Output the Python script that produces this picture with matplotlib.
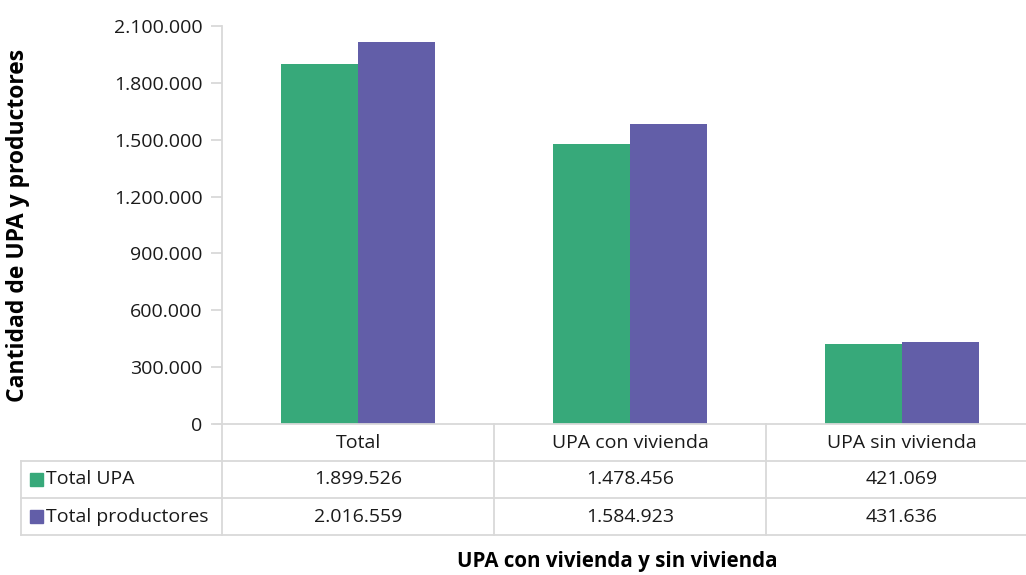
import matplotlib
matplotlib.use("Agg")
import matplotlib.pyplot as plt
from matplotlib.lines import Line2D
from matplotlib.patches import Rectangle
import numpy as np

categories = ["Total", "UPA con vivienda", "UPA sin vivienda"]
series_names = ["Total UPA", "Total productores"]
total_upa = [1899526, 1478456, 421069]
total_productores = [2016559, 1584923, 431636]
colors = ["#37a97a", "#625ea8"]
yticks = [0, 300000, 600000, 900000, 1200000, 1500000, 1800000, 2100000]

def fmt(v):
    return f"{v:,}".replace(",", ".")

W, H = 1026, 575
plt.rcParams['font.family'] = ['Open Sans', 'DejaVu Sans']
fig = plt.figure(figsize=(W / 100, H / 100), dpi=100)

def fx(px):
    return px / W

def fy(py):
    return 1 - py / H

FS = 14
ax_left, ax_right, ax_top, ax_bottom = 222, 1038, 26, 424
ax = fig.add_axes([fx(ax_left), fy(ax_bottom), fx(ax_right - ax_left), (ax_bottom - ax_top) / H])

n = len(categories)
x = np.arange(n)
bw = 0.283
ax.bar(x - bw / 2, total_upa, width=bw, color=colors[0], label=series_names[0])
ax.bar(x + bw / 2, total_productores, width=bw, color=colors[1], label=series_names[1])
ax.set_xlim(-0.5, n - 0.5)
ax.set_ylim(0, 2100000)
ax.set_yticks(yticks)
ax.set_yticklabels([fmt(v) for v in yticks], fontsize=FS, color="#1a1a1a")
ax.set_xticks([])
for s in ["top", "right", "bottom"]:
    ax.spines[s].set_visible(False)
ax.spines["left"].set_color("#d9d9d9")
ax.spines["left"].set_linewidth(1.3)
ax.tick_params(axis="y", length=8, color="#d9d9d9", width=1.3, pad=6)

fig.text(fx(18), fy(225), "Cantidad de UPA y productores", fontsize=16.5,
         fontweight="bold", color="#000000", rotation=90, ha="center", va="center")

# Data table
grid_col = "#d9d9d9"
lw = 1.3
row_y = [424, 461, 498, 535]
table_left = 21
col_edges_px = [ax_left + (ax_right - ax_left) * i / n for i in range(n + 1)]

def hline(y, x0, x1):
    fig.add_artist(Line2D([fx(x0), fx(x1)], [fy(y), fy(y)], color=grid_col, lw=lw))

def vline(xp, y0, y1):
    fig.add_artist(Line2D([fx(xp), fx(xp)], [fy(y0), fy(y1)], color=grid_col, lw=lw))

hline(row_y[0], ax_left - 8, W + 20)
for y in row_y[1:]:
    hline(y, table_left, W + 20)
vline(table_left, row_y[1], row_y[3])
vline(ax_left, row_y[0], row_y[3])
for xe in col_edges_px[1:-1]:
    vline(xe, row_y[0], row_y[3])

txt_kw = dict(fontsize=FS, color="#1a1a1a", ha="center", va="center")
for i, c in enumerate(categories):
    cx = (col_edges_px[i] + col_edges_px[i + 1]) / 2
    fig.text(fx(cx), fy((row_y[0] + row_y[1]) / 2), c, **txt_kw)
    fig.text(fx(cx), fy((row_y[1] + row_y[2]) / 2), fmt(total_upa[i]), **txt_kw)
    fig.text(fx(cx), fy((row_y[2] + row_y[3]) / 2), fmt(total_productores[i]), **txt_kw)

for r, (name, col) in enumerate(zip(series_names, colors)):
    cy = (row_y[r + 1] + row_y[r + 2]) / 2
    sq = 13
    fig.add_artist(Rectangle((fx(30), fy(cy + sq / 2)), fx(sq), sq / H, color=col,
                             transform=fig.transFigure))
    fig.text(fx(46), fy(cy), name, fontsize=FS, color="#1a1a1a", ha="left", va="center")

fig.text(fx(617), fy(561), "UPA con vivienda y sin vivienda", fontsize=14.8,
         fontweight="bold", color="#000000", ha="center", va="center")

fig.savefig("out.png", dpi=100)
